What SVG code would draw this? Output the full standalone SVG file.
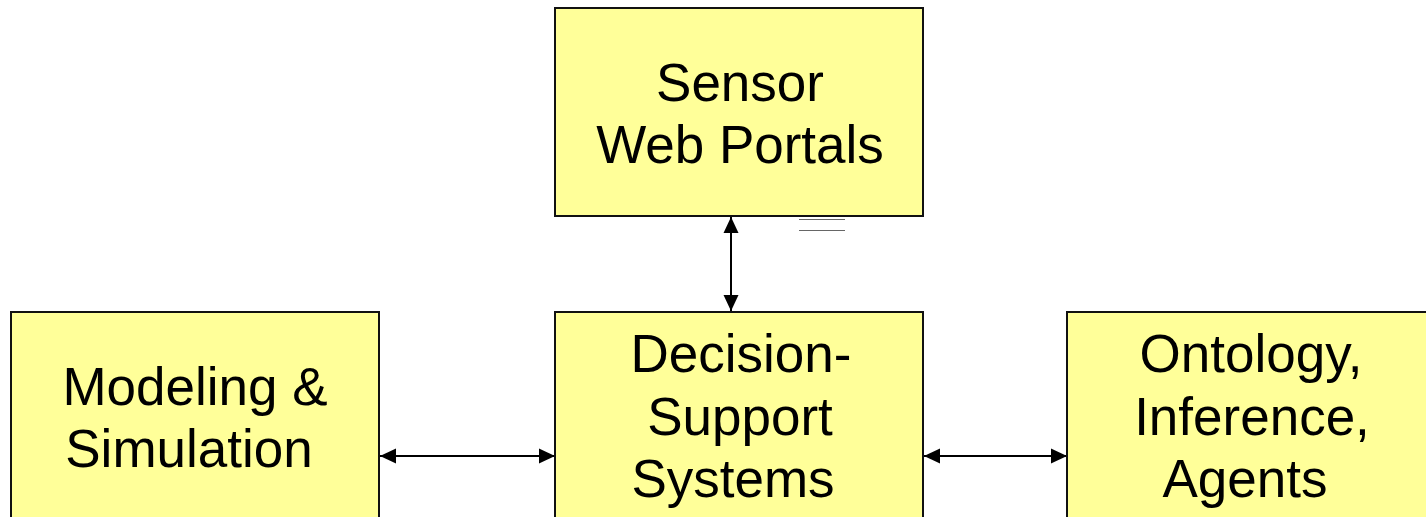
<svg xmlns="http://www.w3.org/2000/svg" width="1426" height="517" viewBox="0 0 1426 517">
<style>
.box{fill:#FFFF99;stroke:#111;stroke-width:2}
.t{font-family:"Liberation Sans",Arial,sans-serif;font-size:53px;fill:#000;text-anchor:middle}
.c{stroke:#000;stroke-width:2;fill:none;marker-start:url(#a);marker-end:url(#a)}
.g{stroke:#666;stroke-width:1}
</style>
<defs>
<marker id="a" viewBox="0 0 16 16" refX="16" refY="8" markerWidth="16" markerHeight="16" markerUnits="userSpaceOnUse" orient="auto-start-reverse">
<path d="M0,0.5 L16,8 L0,15.5 Z" fill="#000"/>
</marker>
</defs>
<rect width="1426" height="517" fill="#fff"/>
<g id="connectors">
<line class="c" x1="731" y1="217" x2="731" y2="311"/>
<line class="c" x1="380" y1="456" x2="555" y2="456"/>
<line class="c" x1="924" y1="456" x2="1067" y2="456"/>
<line class="g" x1="799" y1="219.5" x2="845" y2="219.5"/>
<line class="g" x1="799" y1="230.5" x2="845" y2="230.5"/>
</g>
<g id="sensor">
<rect class="box" x="555" y="8" width="368" height="208"/>
<text class="t" x="740" y="101">Sensor</text>
<text class="t" x="740" y="163">Web Portals</text>
</g>
<g id="modeling">
<rect class="box" x="11" y="312" width="368" height="220"/>
<text class="t" x="195" y="405">Modeling &amp;</text>
<text class="t" x="189" y="467">Simulation</text>
</g>
<g id="decision">
<rect class="box" x="555" y="312" width="368" height="220"/>
<text class="t" x="741" y="372">Decision-</text>
<text class="t" x="740" y="435">Support</text>
<text class="t" x="733" y="497">Systems</text>
</g>
<g id="ontology">
<rect class="box" x="1067" y="312" width="368" height="220"/>
<text class="t" x="1251" y="372">Ontology,</text>
<text class="t" x="1252" y="435">Inference,</text>
<text class="t" x="1245" y="497">Agents</text>
</g>
</svg>
